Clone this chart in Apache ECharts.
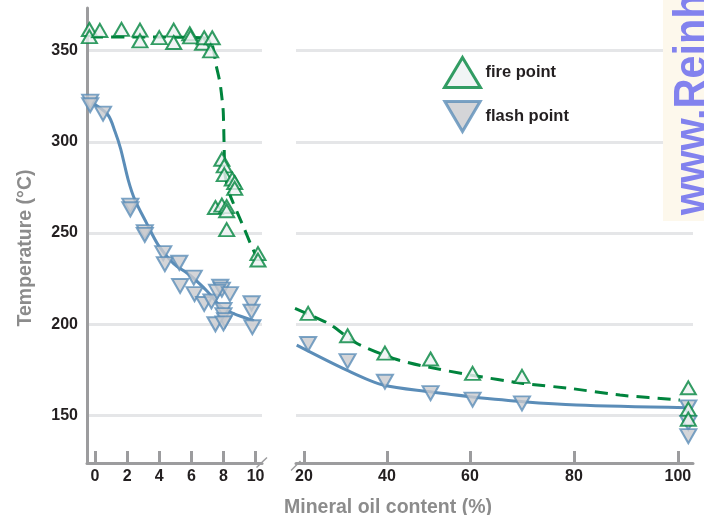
<!DOCTYPE html>
<html><head><meta charset="utf-8">
<script src="https://cdn.jsdelivr.net/npm/echarts@6/dist/echarts.min.js"></script>
<style>html,body{margin:0;padding:0;background:#fff}#c{width:704px;height:515px}</style>
</head><body><div id="c"></div>
<script>
// ---- tick labels ----
const leftTicks = [0, 2, 4, 6, 8, 10];
const rightTicksA = [20, 40];
const rightTicksB = [60, 80, 100];
const yTicks = [150, 200, 250, 300, 350];

// ---- left segment (0-10 %) measured points ----
const fireLeftX = [-0.35,-0.35,0.3,1.65,2.8,2.8,4.0,4.9,4.9,5.9,5.95,6.7,6.8,7.3,7.2,7.9,8.05,8.05,8.55,8.7,8.7,7.5,7.9,8.2,8.2,8.2,10.15,10.15];
const fireLeftY = [361.5,357.6,361,361.6,361.2,355.3,357.1,361.2,354.4,359.2,357.5,354,357,357,349.8,290.4,286.8,282,279.6,277.7,274.5,264,265.3,264.5,262.2,251.9,238.7,235.2];
const flashLeftX = [-0.3,-0.3,0.5,2.2,2.2,3.1,3.1,4.25,4.35,5.25,6.15,5.3,6.2,6.8,7.25,7.8,7.9,7.6,8.4,8.0,8.0,8.1,7.5,8.0,9.75,9.75,9.8];
const flashLeftY = [322,320,315.4,265,263,250.5,249,239,233,233.7,225.6,221,216.5,211.1,212.5,220.6,219,217.8,216.5,207.8,205,202.3,200,200.5,211.5,206.9,198.4];

// ---- right segment (20-100 %) measured points ----
const rightX = [21, 30.5, 39.5, 50.5, 60.5, 70];
const fireRight = [206, 193.7, 184.2, 181, 173.1, 171.5];
const flashRight = [189.2, 179.8, 168.5, 162.3, 158.7, 156.7];
const pureX = 102;
const firePure = [165.2, 153.5, 148];
const flashPure = [154.5, 146, 138.7];

// ---- trend curves ----
const fireCurveLeft = [[-0.3,357.4],[3.4,357.4],[6.85,356.8],[7.3,353],[7.54,342],[7.79,332],[7.98,317.4],[8.04,298.2],[8.1,281.8],[8.41,270.8],[8.85,261.5],[9.28,252.7],[9.72,243.4],[10.1,236.3]];
const flashCurveLeft = [[-0.2,321.5],[0.8,314.8],[1.25,305.5],[1.6,296],[2.07,279],[2.49,268],[3.22,255.3],[3.94,243.4],[4.88,233.4],[5.9,227],[7.0,218],[7.8,210],[8.6,206],[9.9,202]];
const fireCurveRight = [[17.83,208.7],[25.86,200.5],[32.7,189.6],[41.5,181.3],[48.7,177.1],[60,172.2],[70.25,167.6],[79.2,164.9],[88.85,161.2],[100.4,158.5]];
const flashCurveRight = [[18.24,188.6],[30.3,174.9],[39.1,166.7],[50.4,163],[60,160.3],[70.25,157.6],[80.5,155.8],[101.7,154.3]];

const FONT = "'Liberation Sans', Arial, Helvetica, sans-serif";
const GREEN = '#00843d', GREEN_FILL = '#eef1f3';
const BLUE = '#5b8db8', BLUE_FILL = '#c9cbce';
const AXIS = '#9c9c9e', GRIDC = '#e5e6e8';
const DOWN = 'path://M0,0L20,0L10,17Z';

function xAx(gi, min, max, ticks, extra) {
  return Object.assign({
    type: 'value', gridIndex: gi, min: min, max: max,
    axisLine: { show: true, onZero: false, lineStyle: { color: AXIS, width: 3 } },
    axisTick: { show: true, inside: true, length: 12, customValues: ticks, lineStyle: { color: AXIS, width: 3 } },
    axisLabel: { customValues: ticks, color: '#231f20', fontFamily: FONT, fontWeight: 'bold', fontSize: 16, margin: 6 },
    splitLine: { show: false }
  }, extra || {});
}
function yAx(gi, visible, extra) {
  return Object.assign({
    type: 'value', gridIndex: gi, min: 124, max: 373.3,
    axisLine: { show: visible, onZero: false, lineStyle: { color: AXIS, width: 3 } },
    axisTick: { show: false, customValues: yTicks },
    axisLabel: { show: visible, customValues: yTicks, color: '#231f20', fontFamily: FONT, fontWeight: 'bold', fontSize: 16, margin: 9 },
    splitLine: { show: true, lineStyle: { color: GRIDC, width: 3 } }
  }, extra || {});
}
function pairs(xs, ys) { return xs.map((x, i) => [x, ys[i]]); }
function rightPts(ys, pure, seg) {
  const pts = pairs(rightX, ys).concat(pure.map(v => [pureX, v]));
  return pts.filter(p => seg === 0 ? p[0] < 60 : p[0] >= 60);
}
function splitCurve(c, seg) { return c.filter(p => seg === 0 ? p[0] <= 60 : p[0] >= 60); }

const fireSym = { type: 'scatter', name: 'fire point', symbol: 'triangle', symbolSize: [15, 13], clip: false, z: 5,
  itemStyle: { color: GREEN_FILL, borderColor: GREEN, borderWidth: 2 } };
const flashSym = { type: 'scatter', name: 'flash point', symbol: DOWN, symbolSize: [16, 14], clip: false, z: 4,
  itemStyle: { color: BLUE_FILL, borderColor: BLUE, borderWidth: 2 } };
const fireLine = { type: 'line', name: 'fire trend', symbol: 'none', smooth: 0.2, clip: false, z: 3,
  lineStyle: { color: GREEN, width: 3, type: [13, 8] } };
const flashLine = { type: 'line', name: 'flash trend', symbol: 'none', smooth: 0.3, clip: false, z: 3,
  lineStyle: { color: BLUE, width: 3 } };

const series = [];
// left grid
series.push(Object.assign({}, fireLine, { xAxisIndex: 0, yAxisIndex: 0, data: fireCurveLeft }));
series.push(Object.assign({}, flashLine, { xAxisIndex: 0, yAxisIndex: 0, data: flashCurveLeft }));
series.push(Object.assign({}, flashSym, { xAxisIndex: 0, yAxisIndex: 0, data: pairs(flashLeftX, flashLeftY) }));
series.push(Object.assign({}, fireSym, { xAxisIndex: 0, yAxisIndex: 0, data: pairs(fireLeftX, fireLeftY) }));
// right grids (two linear pieces of the original stretched axis)
[0, 1].forEach(seg => {
  const ai = seg + 1;
  series.push(Object.assign({}, fireLine, { xAxisIndex: ai, yAxisIndex: ai, data: splitCurve(fireCurveRight, seg) }));
  series.push(Object.assign({}, flashLine, { xAxisIndex: ai, yAxisIndex: ai, data: splitCurve(flashCurveRight, seg) }));
  series.push(Object.assign({}, flashSym, { xAxisIndex: ai, yAxisIndex: ai, data: rightPts(flashRight, flashPure, seg) }));
  series.push(Object.assign({}, fireSym, { xAxisIndex: ai, yAxisIndex: ai, data: rightPts(fireRight, firePure, seg) }));
});

const chart = echarts.init(document.getElementById('c'), null, { renderer: 'canvas' });
chart.setOption({
  backgroundColor: '#ffffff',
  animation: false,
  grid: [
    { left: 87, top: 8, width: 175, height: 455, outerBoundsMode: 'none', containLabel: false },
    { left: 296, top: 8, width: 174, height: 455, outerBoundsMode: 'none', containLabel: false },
    { left: 470, top: 8, width: 223, height: 455, outerBoundsMode: 'none', containLabel: false }
  ],
  xAxis: [
    xAx(0, -0.5, 10.4, leftTicks),
    xAx(1, 18.07, 60, rightTicksA, {
      name: 'Mineral oil content (%)', nameLocation: 'middle', nameGap: 35,
      nameTextStyle: { color: '#8c8c8c', fontFamily: FONT, fontWeight: 'bold', fontSize: 19.5, padding: [0, 0, 0, 10] }
    }),
    xAx(2, 60, 102.9, rightTicksB)
  ],
  yAxis: [
    yAx(0, true, {
      name: 'Temperature (°C)', nameLocation: 'middle', nameGap: 51,
      nameTextStyle: { color: '#8c8c8c', fontFamily: FONT, fontWeight: 'bold', fontSize: 19.5, padding: [0, 25, 0, 0] }
    }),
    yAx(1, false),
    yAx(2, false)
  ],
  legend: {
    orient: 'vertical', left: 438, top: 51, itemWidth: 36, itemHeight: 30, itemGap: 11,
    selectedMode: false, symbolRotate: 0,
    textStyle: { color: '#231f20', fontFamily: FONT, fontWeight: 'bold', fontSize: 16.5 },
    data: [
      { name: 'fire point', icon: 'triangle', itemStyle: { color: GREEN_FILL, borderColor: GREEN, borderWidth: 3 } },
      { name: 'flash point', icon: DOWN, itemStyle: { color: BLUE_FILL, borderColor: BLUE, borderWidth: 3 } }
    ]
  },
  graphic: [
    { type: 'line', z: 50, shape: { x1: 256.5, y1: 467.5, x2: 267, y2: 457.5 }, style: { stroke: AXIS, lineWidth: 1.5 } },
    { type: 'line', z: 50, shape: { x1: 291, y1: 470.5, x2: 300.5, y2: 461 }, style: { stroke: AXIS, lineWidth: 1.5 } },
    { type: 'rect', z: 100, shape: { x: 663, y: 0, width: 41, height: 221 }, style: { fill: '#fdf8ec' } },
    { type: 'text', z: 101, x: 716, y: 215, rotation: Math.PI / 2, scaleX: 0.9,
      style: { text: 'www.Reinhausen.com', fontFamily: FONT, fontWeight: 'bold', fontSize: 46, fill: '#8282ee', align: 'left', verticalAlign: 'bottom' } }
  ],
  series: series
});
</script>
</body></html>
